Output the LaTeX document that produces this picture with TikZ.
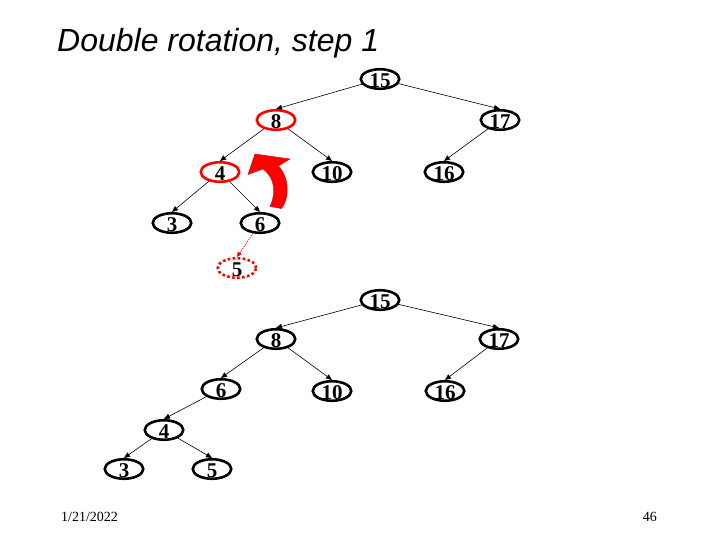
\documentclass[tikz,border=0pt]{standalone}
\usepackage{fontspec}
\setmainfont{Liberation Serif}
\setsansfont{Liberation Sans}
\usetikzlibrary{shapes.geometric,arrows.meta}
\begin{document}
\begin{tikzpicture}[x=1pt,y=-1pt,
  nd/.style={ellipse,draw=black,line width=2.6pt,minimum width=38.5pt,minimum height=19.5pt,inner sep=-4pt,text height=17.6pt,text depth=0pt,font=\bfseries\fontsize{21}{21}\selectfont},
  rednd/.style={nd,draw=red},
  dotnd/.style={nd,draw=red,dash pattern=on 2.6pt off 2.4pt},
  edge/.style={-{Triangle[length=6pt,width=5pt]},line width=0.6pt,draw=black},
  rededge/.style={-{Triangle[length=5pt,width=4.5pt]},line width=0.7pt,draw=red,dash pattern=on 1.2pt off 1pt,color=red},
  foot/.style={font=\fontsize{14}{14}\selectfont,inner sep=0pt}
]
\useasboundingbox (0,0) rectangle (720,540);
% title
\node[anchor=base west,inner sep=0pt,font=\sffamily\itshape\fontsize{32}{32}\selectfont] (title) at (57,52) {Double rotation, step 1};
% top tree
\node[nd] (a15) at (380,79) {15};
\node[rednd] (a8) at (276,120) {8};
\node[nd] (a17) at (500,120) {17};
\node[rednd] (a4) at (220,172) {4};
\node[nd] (a10) at (332,172) {10};
\node[nd] (a16) at (444,172) {16};
\node[nd] (a3) at (172,223) {3};
\node[nd] (a6) at (260,223) {6};
\node[dotnd] (a5) at (237,268) {5};
\draw[edge] (a15) -- (a8.north);
\draw[edge] (a15) -- (a17.north);
\draw[edge] (a8) -- (a4.north);
\draw[edge] (a8) -- (a10.north);
\draw[edge] (a17) -- (a16.north);
\draw[edge] (a4) -- (a3.north);
\draw[edge] (a4) -- (a6.north);
\draw[rededge] (a6) -- (a5.north);
% rotation arrow
\fill[red,draw=red!85!black,line width=0.4pt] (263,169) -- (248,174.5) -- (255,154) -- (290,159) -- (278.5,166)
  .. controls (288,176) and (291,195) .. (281.5,208.5) -- (270,206.5)
  .. controls (276,194) and (275.5,178) .. (263,169) -- cycle;
% bottom tree
\node[nd] (b15) at (380,300) {15};
\node[nd] (b8) at (276,339) {8};
\node[nd] (b17) at (499,339) {17};
\node[nd] (b6) at (221,389) {6};
\node[nd] (b10) at (332,391) {10};
\node[nd] (b16) at (445,391) {16};
\node[nd] (b4) at (164,430) {4};
\node[nd] (b3) at (124,469) {3};
\node[nd] (b5) at (212,469) {5};
\draw[edge] (b15) -- (b8.north);
\draw[edge] (b15) -- (b17.north);
\draw[edge] (b8) -- (b6.north);
\draw[edge] (b8) -- (b10.north);
\draw[edge] (b17) -- (b16.north);
\draw[edge] (b6) -- (b4.north);
\draw[edge] (b4) -- (b3.north);
\draw[edge] (b4) -- (b5.north);
% footer
\node[foot,anchor=base west] (date) at (61,521) {1/21/2022};
\node[foot,anchor=base east] (page) at (657,521) {46};
\end{tikzpicture}
\end{document}
